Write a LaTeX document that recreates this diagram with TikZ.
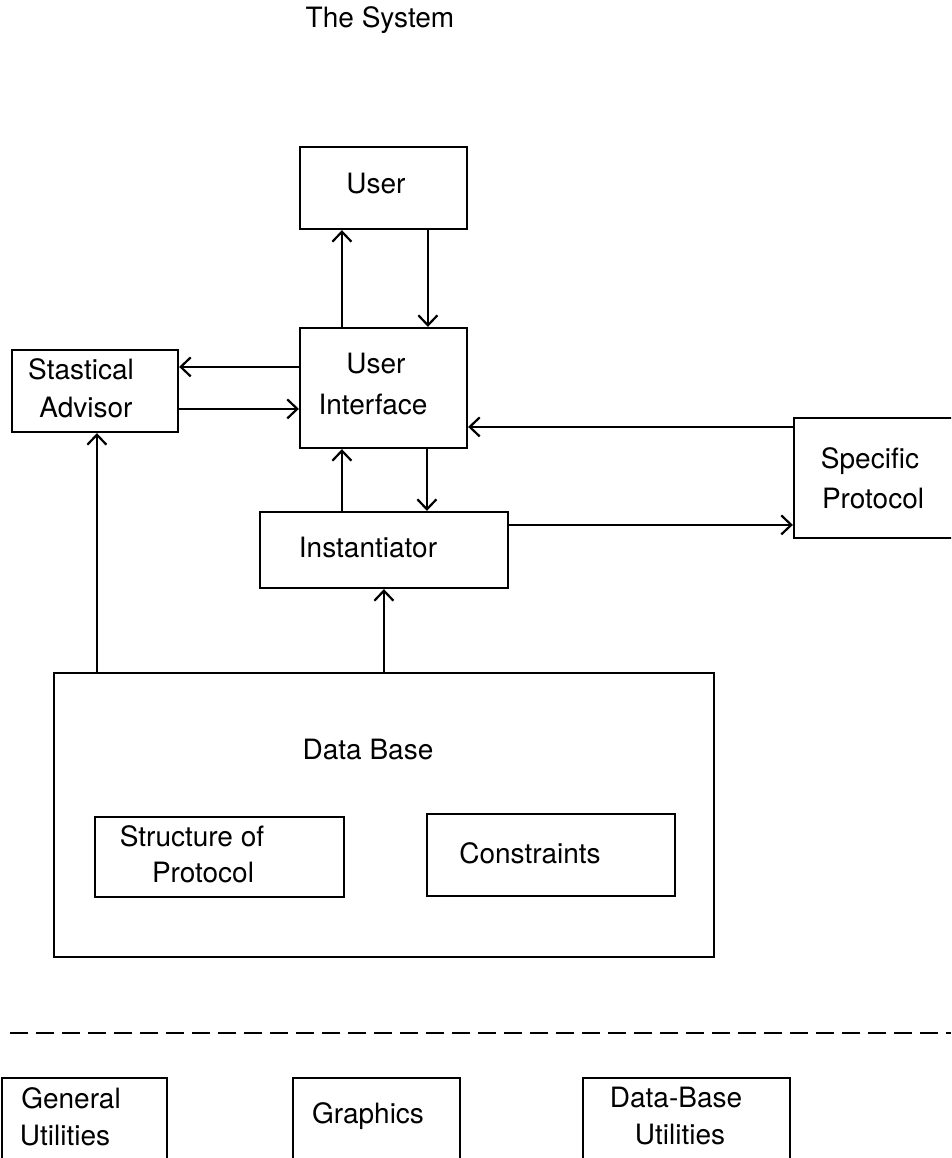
\documentclass[tikz,border=0pt]{standalone}
\usepackage{fontspec}
\setmainfont{TeX Gyre Heros}
\usetikzlibrary{arrows.meta}
\begin{document}
\begin{tikzpicture}[x=1pt,y=-1pt,
  box/.style={draw,line width=2.2pt,rectangle,inner sep=0pt},
  lbl/.style={anchor=base,inner sep=0pt,font=\fontsize{28}{32}\selectfont},
  arr/.style={line width=2.2pt,-{Straight Barb[length=10pt,width=19pt,line width=2.2pt]}}]
\useasboundingbox (0,0) rectangle (951,1158);
\clip (0,0) rectangle (951,1158);
\fill[white] (0,0) rectangle (951,1158);

% title
\node[lbl] (title) at (380,28) {The System};

% boxes
\node[box,minimum width=167pt,minimum height=82pt] (user) at (383.5,188) {};
\node[box,minimum width=167pt,minimum height=120pt] (ui) at (383.5,388) {};
\node[box,minimum width=166pt,minimum height=82pt] (sa) at (95,391) {};
\node[box,minimum width=248pt,minimum height=76pt] (inst) at (384,550) {};
\node[box,minimum width=170pt,minimum height=120pt] (sp) at (879,478) {};
\node[box,minimum width=660pt,minimum height=284pt] (db) at (384,815) {};
\node[box,minimum width=249pt,minimum height=80pt] (sop) at (219.5,857) {};
\node[box,minimum width=248pt,minimum height=82pt] (con) at (551,855) {};
\node[box,minimum width=165pt,minimum height=112pt] (gu) at (84.5,1134) {};
\node[box,minimum width=167pt,minimum height=112pt] (gr) at (376.5,1134) {};
\node[box,minimum width=207pt,minimum height=112pt] (dbu) at (686.5,1134) {};

% labels
\node[lbl] (tuser) at (376,194) {User};
\node[lbl] (tui1) at (376,373) {User};
\node[lbl] (tui2) at (373,414) {Interface};
\node[lbl] (tsa1) at (81,379) {Stastical};
\node[lbl] (tsa2) at (86,417) {Advisor};
\node[lbl] (tinst) at (368,557) {Instantiator};
\node[lbl] (tsp1) at (870,468) {Specific};
\node[lbl] (tsp2) at (873,508) {Protocol};
\node[lbl] (tdb) at (368,759) {Data Base};
\node[lbl] (tsop1) at (192,846) {Structure of};
\node[lbl] (tsop2) at (203,882) {Protocol};
\node[lbl] (tcon) at (530,863) {Constraints};
\node[lbl] (tgu1) at (71,1108) {General};
\node[lbl] (tgu2) at (65,1145) {Utilities};
\node[lbl] (tgr) at (368,1123) {Graphics};
\node[lbl] (tdbu1) at (676,1107) {Data-Base};
\node[lbl] (tdbu2) at (680,1144) {Utilities};

% connectors
\draw[arr] ([xshift=43pt]ui.north west) -- ([xshift=43pt]user.south west);
\draw[arr] ([xshift=129pt]user.south west) -- ([xshift=129pt]ui.north west);
\draw[arr] ([yshift=-40pt]ui.north west) -- ([yshift=-18pt]sa.north east);
\draw[arr] ([yshift=-60pt]sa.north east) -- ([yshift=-82pt]ui.north west);
\draw[arr] ([yshift=-10pt]sp.north west) -- ([yshift=-100pt]ui.north east);
\draw[arr] ([xshift=83pt]inst.north west) -- ([xshift=43pt]ui.south west);
\draw[arr] ([xshift=128pt]ui.south west) -- ([xshift=168pt]inst.north west);
\draw[arr] ([yshift=-14pt]inst.north east) -- ([yshift=-108pt]sp.north west);
\draw[arr] ([xshift=44pt]db.north west) -- ([xshift=86pt]sa.south west);
\draw[arr] ([xshift=331pt]db.north west) -- ([xshift=125pt]inst.south west);

% separator
\coordinate (sepL) at (10,1033);
\coordinate (sepR) at (951,1033);
\draw[line width=2.2pt,dash pattern=on 18pt off 8pt] (sepL) -- (sepR);
\end{tikzpicture}
\end{document}
